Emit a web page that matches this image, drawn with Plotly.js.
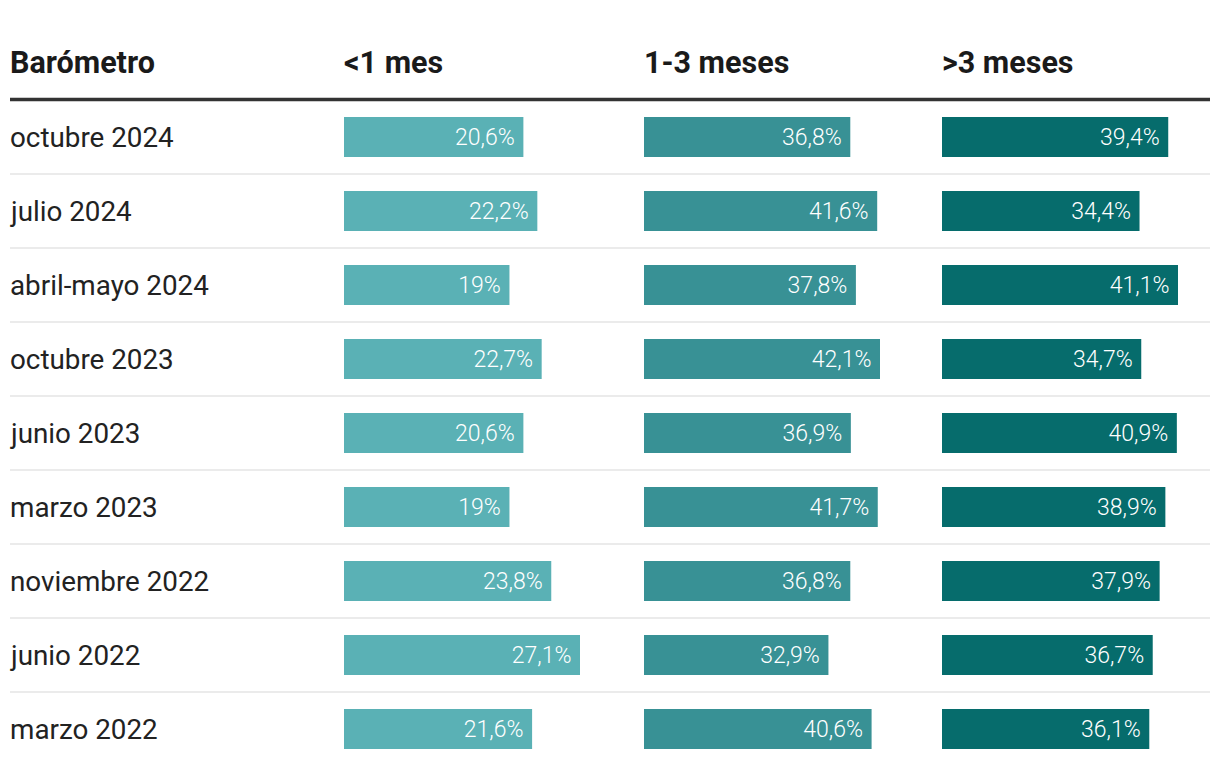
<!DOCTYPE html>
<html>
<head>
<meta charset="utf-8">
<script src="https://cdn.plot.ly/plotly-3.0.1.min.js"></script>
<style>html,body{margin:0;padding:0;background:#fff;}#chart{width:1220px;height:776px;}</style>
</head>
<body>
<div id="chart"></div>
<script>
const barometros = ["octubre 2024","julio 2024","abril-mayo 2024","octubre 2023","junio 2023","marzo 2023","noviembre 2022","junio 2022","marzo 2022"];
const columnas = ["<1 mes","1-3 meses",">3 meses"];
const menos1 = [20.6,22.2,19,22.7,20.6,19,23.8,27.1,21.6];
const entre1y3 = [36.8,41.6,37.8,42.1,36.9,41.7,36.8,32.9,40.6];
const mas3 = [39.4,34.4,41.1,34.7,40.9,38.9,37.9,36.7,36.1];
const colores = ["#5ab1b5","#389195","#066c6c"];

const W = 1220, H = 776, T = 100, B = 10;
const plotH = H - T - B;
const fmt = v => v.toString().replace('.', ',') + '%\u00a0';
const series = [menos1, entre1y3, mas3];
const xKeys = ['x','x2','x3'];
const colLeft = [344, 644, 942];
const colW = 236;

const traces = series.map((vals, i) => ({
  type: 'bar', orientation: 'h',
  x: vals, y: barometros,
  xaxis: xKeys[i], yaxis: 'y',
  marker: {color: colores[i]},
  width: 0.54,
  text: vals.map(fmt),
  textposition: 'inside',
  insidetextanchor: 'end',
  textfont: {color: '#ffffff', size: 23, family: 'Roboto', weight: 300},
  constraintext: 'none',
  hoverinfo: 'skip',
  cliponaxis: false
}));

const layout = {
  width: W, height: H,
  margin: {l: 0, r: 0, t: T, b: B},
  paper_bgcolor: '#ffffff', plot_bgcolor: '#ffffff',
  showlegend: false,
  font: {family: 'Roboto', color: '#222222'},
  yaxis: {type: 'category', categoryorder: 'array', categoryarray: barometros,
          range: [barometros.length - 0.5, -0.5], visible: false, fixedrange: true},
  annotations: [],
  shapes: []
};
series.forEach((vals, i) => {
  const key = i === 0 ? 'xaxis' : 'xaxis' + (i + 1);
  layout[key] = {domain: [colLeft[i] / W, (colLeft[i] + colW) / W],
                 range: [0, Math.max(...vals)], visible: false, fixedrange: true, anchor: 'y'};
});

const headY = 1 + (T - 63) / plotH;
const headers = ["Barómetro"].concat(columnas);
const headX = [8].concat(colLeft.map(c => c - 2));
headers.forEach((h, i) => layout.annotations.push({
  text: '<b>' + h + '</b>', xref: 'paper', yref: 'paper', x: headX[i] / W, y: headY,
  xanchor: 'left', yanchor: 'middle', showarrow: false,
  font: {size: 30.5, color: '#1a1a1a', family: 'Roboto'}
}));
barometros.forEach(b => layout.annotations.push({
  text: b, xref: 'paper', yref: 'y', x: 8 / W, y: b,
  xanchor: 'left', yanchor: 'middle', showarrow: false,
  font: {size: 27.8, color: '#222222', family: 'Roboto'}
}));

layout.shapes.push({type: 'line', xref: 'paper', yref: 'paper', x0: 10 / W, x1: 1210 / W,
  y0: 1 + (T - 99.5) / plotH, y1: 1 + (T - 99.5) / plotH, line: {color: '#333333', width: 3.5}});
for (let i = 0; i < barometros.length - 1; i++) {
  layout.shapes.push({type: 'line', xref: 'paper', yref: 'y', x0: 10 / W, x1: 1210 / W,
    y0: i + 0.5, y1: i + 0.5, line: {color: '#ebebeb', width: 2}, layer: 'below'});
}

Plotly.newPlot('chart', traces, layout, {displayModeBar: false, staticPlot: true});
</script>
</body>
</html>
